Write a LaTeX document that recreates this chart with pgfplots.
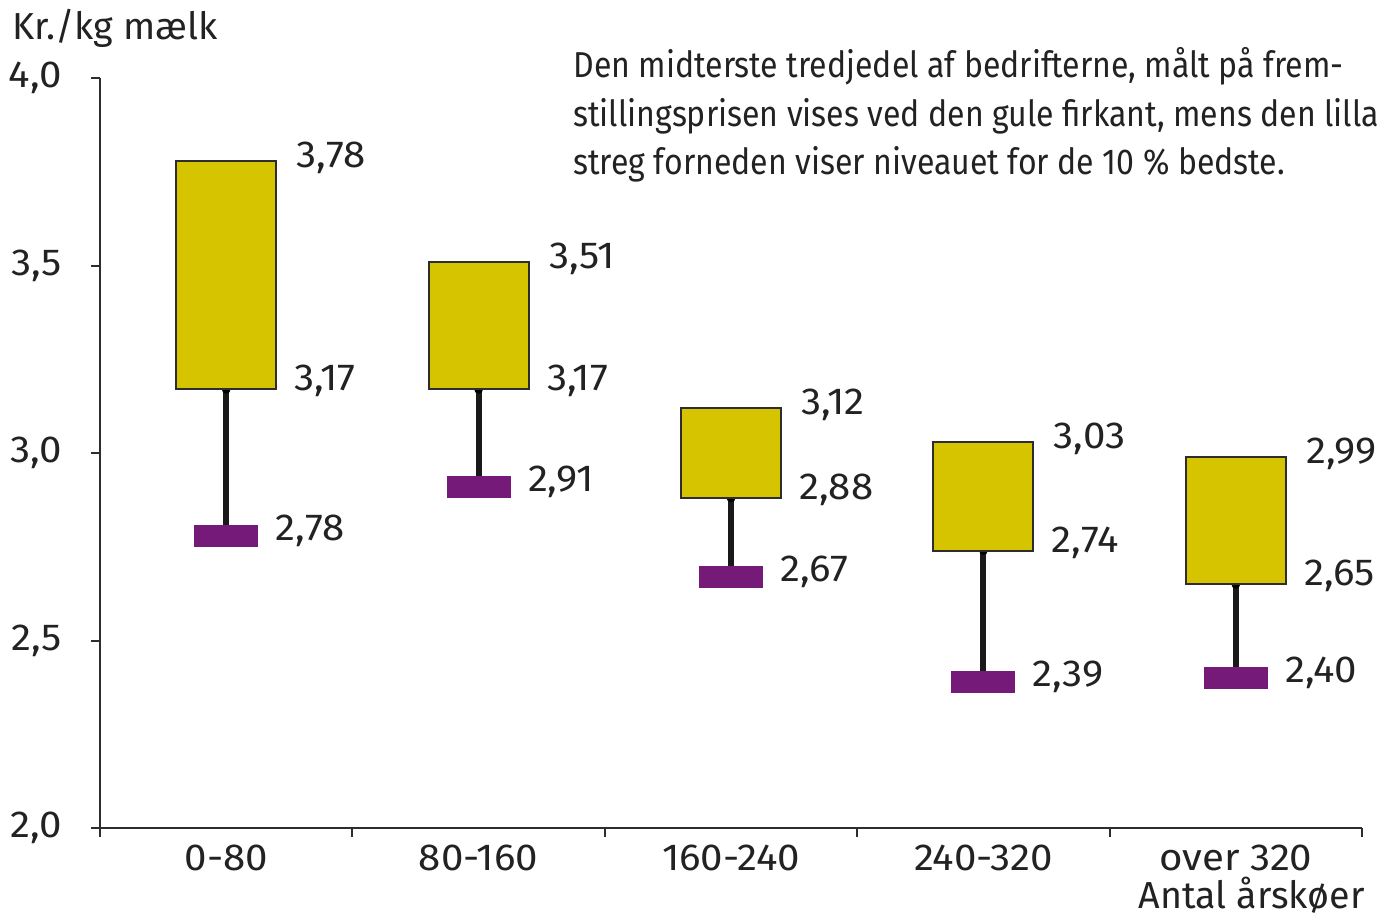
\documentclass[border=0pt]{standalone}
\usepackage{fontspec}
\setmainfont{Fira Sans}
\newfontfamily\condfont{Fira Sans}[FakeStretch=0.89]
\newfontfamily\numfont{Fira Sans}[FakeStretch=1.07]
\usepackage{pgfplots}
\usepackage{pgfplotstable}
\pgfplotsset{compat=1.18}
\definecolor{gul}{RGB}{214,196,0}
\definecolor{lilla}{RGB}{117,26,120}
\definecolor{edge}{RGB}{45,45,45}
\definecolor{txt}{RGB}{34,34,34}
\newcommand\lbl{\fontsize{18.8}{22}\selectfont}
\pgfdeclareplotmark{hbar}{\pgfpathrectangle{\pgfpoint{-16pt}{-5.5pt}}{\pgfpoint{32pt}{11pt}}\pgfusepathqfill}

\pgfplotstableread{
x   lo   hi   best
0.5 3.17 3.78 2.78
1.5 3.17 3.51 2.91
2.5 2.88 3.12 2.67
3.5 2.74 3.03 2.39
4.5 2.65 2.99 2.40
}\data

\begin{document}
\begin{tikzpicture}
\useasboundingbox (-50pt,-45pt) rectangle (640.5pt,414pt);
\begin{axis}[
  name=main, at={(0,0)}, anchor=south west,
  width=631pt, height=375pt, scale only axis,
  xmin=0, xmax=5, ymin=2, ymax=4,
  axis lines*=left,
  axis line style={draw=edge, line width=1pt},
  tick align=outside, major tick length=4.5pt,
  tick style={draw=edge, line width=1pt},
  ytick={2,2.5,3,3.5,4},
  yticklabel style={font=\numfont\lbl, text=txt, xshift=-11pt, /pgf/number format/.cd, fixed, fixed zerofill, precision=1, use comma, assume math mode=true},
  xtick={0,1,2,3,4,5}, xticklabels={},
  extra x ticks={0.5,1.5,2.5,3.5,4.5},
  extra x tick labels={0-80,80-160,160-240,240-320,over 320},
  extra x tick style={major tick length=0pt, xticklabel style={font=\numfont\lbl, text=txt, yshift=-5pt}},
  clip=false,
]
% whiskers
\addplot[only marks, mark=none, error bars/.cd, y dir=minus, y explicit, error mark=none,
  error bar style={draw=black!90, line width=3pt}]
  table[x=x, y=lo, y error expr=\thisrow{lo}-\thisrow{best}] \data;
% best 10 %
\addplot[only marks, mark=hbar, mark options={fill=lilla, draw=none}]
  table[x=x, y=best] \data;
% labels
\pgfplotsset{vallbl/.style={only marks, mark=none, point meta=y,
  nodes near coords={\pgfmathprintnumber[fixed, fixed zerofill, precision=2, use comma, assume math mode=true]{\pgfplotspointmeta}}}}
\addplot[vallbl, every node near coord/.style={anchor=west, inner sep=0pt, font=\numfont\lbl, text=txt, xshift=35pt, yshift=1.5pt}]
  table[x=x, y=hi] \data;
\addplot[vallbl, every node near coord/.style={anchor=west, inner sep=0pt, font=\numfont\lbl, text=txt, xshift=34pt, yshift=4pt}]
  table[x=x, y=lo] \data;
\addplot[vallbl, every node near coord/.style={anchor=west, inner sep=0pt, font=\numfont\lbl, text=txt, xshift=24.5pt, yshift=2.5pt}]
  table[x=x, y=best] \data;
\end{axis}
\begin{axis}[
  at={(0,0)}, anchor=south west,
  width=631pt, height=375pt, scale only axis,
  xmin=0, xmax=5, ymin=2, ymax=4, hide axis,
  ybar stacked, bar width=50pt,
]
\addplot[draw=none, fill=none] table[x=x, y=lo] \data;
\addplot[fill=gul, draw=edge, line width=1pt] table[x=x, y expr=\thisrow{hi}-\thisrow{lo}] \data;
\end{axis}
\node[anchor=base west, inner sep=0pt, font=\lbl, text=txt] at (-44pt,394pt) {Kr./kg mælk};
\node[anchor=base east, inner sep=0pt, font=\lbl, text=txt] at (632.5pt,-40pt) {Antal årskøer};
\node[anchor=base west, inner sep=0pt, font=\condfont\fontsize{18}{24}\selectfont, text=txt] at (236.5pt,375pt) {Den midterste tredjedel af bedrifterne, målt på frem-};
\node[anchor=base west, inner sep=0pt, font=\condfont\fontsize{18}{24}\selectfont, text=txt] at (236.5pt,351pt) {stillingsprisen vises ved den gule firkant, mens den lilla};
\node[anchor=base west, inner sep=0pt, font=\condfont\fontsize{18}{24}\selectfont, text=txt] at (236.5pt,327pt) {streg forneden viser niveauet for de 10 \% bedste.};
\end{tikzpicture}
\end{document}
